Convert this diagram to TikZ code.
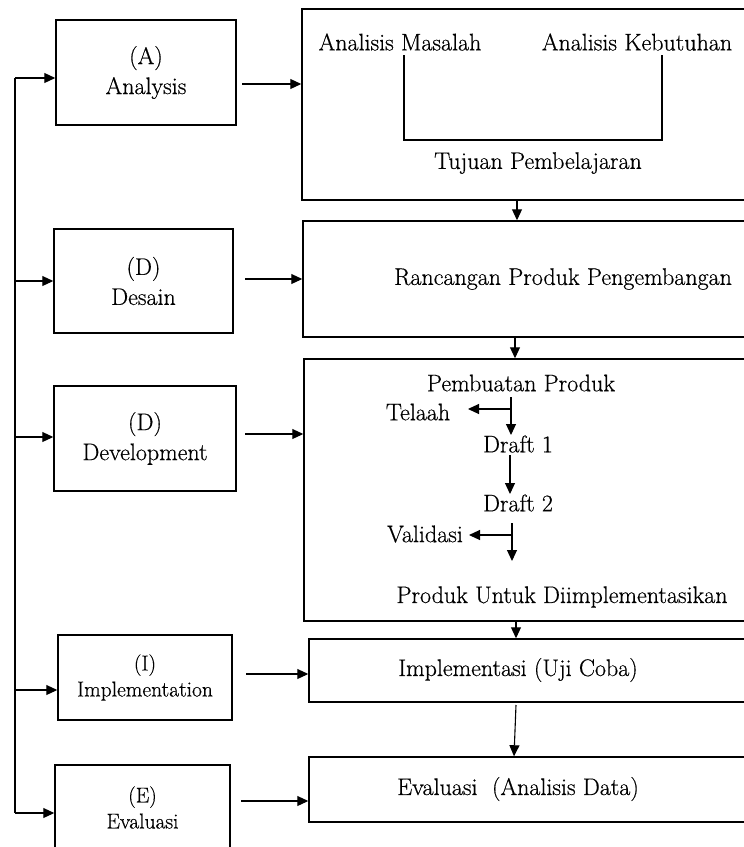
\documentclass[tikz,border=0pt]{standalone}
\usepackage{fontspec}
\setmainfont{Latin Modern Roman}[FakeBold=0.5]
\usetikzlibrary{arrows.meta}
\begin{document}
\begin{tikzpicture}[x=1pt,y=-1pt,
  box/.style={draw,line width=1.5pt,rectangle,inner sep=0pt,align=center},
  arr/.style={line width=1.1pt,-{Triangle[length=11pt,width=10pt]}},
  ln/.style={line width=1.1pt},
  txt/.style={inner sep=0pt,font=\fontsize{24}{30}\selectfont},
  smalltxt/.style={inner sep=0pt,font=\fontsize{21.5}{26}\selectfont}]
\useasboundingbox (0,0) rectangle (744,847);
\clip (0,0) rectangle (744,847);
% left boxes
\node[box,txt,minimum width=180pt,minimum height=105pt] (A) at (146,72.5) {(A)\\Analysis};
\node[box,txt,minimum width=179pt,minimum height=104pt] (D1) at (143.5,281) {(D)\\Desain};
\node[box,txt,minimum width=182pt,minimum height=105pt] (D2) at (145,438.5) {(D)\\Development};
\node[box,smalltxt,minimum width=174pt,minimum height=85pt] (I) at (145,677.5) {(I)\\Implementation};
\node[box,smalltxt,minimum width=175pt,minimum height=85pt] (E) at (142.5,807.5) {(E)\\Evaluasi};
% right boxes
\node[box,minimum width=458pt,minimum height=191pt] (B1) at (531,104.5) {};
\node[box,minimum width=457pt,minimum height=116pt] (B2) at (531.5,279) {};
\node[box,minimum width=456pt,minimum height=262pt] (B3) at (532,490) {};
\node[box,minimum width=451pt,minimum height=63pt] (B4) at (534.5,670.5) {};
\node[box,minimum width=451pt,minimum height=65pt] (B5) at (534.5,789.5) {};
% texts in right boxes
\node[txt] (am) at (400,42) {Analisis Masalah};
\node[txt] (ak) at (637,42) {Analisis Kebutuhan};
\node[txt] (tp) at (538,163) {Tujuan Pembelajaran};
\node[txt] (rp) at (563,279) {Rancangan Produk Pengembangan};
\node[txt] (pp) at (521,383) {Pembuatan Produk};
\node[txt] (tel) at (418,412) {Telaah};
\node[txt] (dr1) at (518,444) {Draft 1};
\node[txt] (dr2) at (518,503) {Draft 2};
\node[txt] (val) at (425,534) {Validasi};
\node[txt] (pud) at (562,597) {Produk Untuk Diimplementasikan};
\node[txt] (imp) at (518,670) {Implementasi (Uji Coba)};
\node[txt] (ev) at (518,789) {Evaluasi\ \ (Analisis Data)};
% bracket in box 1
\coordinate (bl) at (404,55);
\coordinate (br) at (662,55);
\draw[ln] (bl) -- (404,140) -- (662,140) -- (br);
% spine
\coordinate (s0) at (15,78);
\coordinate (s1) at (15,281);
\coordinate (s2) at (15,437);
\coordinate (s3) at (15,690);
\coordinate (s4) at (15,813);
\draw[ln] (s0) -- (s4);
\draw[arr] (s0) -- (s0 -| A.west);
\draw[arr] (s1) -- (s1 -| D1.west);
\draw[arr] (s2) -- (s2 -| D2.west);
\draw[arr] (s3) -- (s3 -| I.west);
\draw[arr] (s4) -- (s4 -| E.west);
% left-to-right arrows
\coordinate (r0) at (242,84);
\coordinate (r1) at (245,279);
\coordinate (r2) at (245,434);
\coordinate (r3) at (246,674);
\coordinate (r4) at (241,801);
\draw[arr] (r0) -- (r0 -| B1.west);
\draw[arr] (r1) -- (r1 -| B2.west);
\draw[arr] (r2) -- (r2 -| B3.west);
\draw[arr] (r3) -- (r3 -| B4.west);
\draw[arr] (r4) -- (r4 -| B5.west);
% arrows between right boxes
\coordinate (v1) at (517,0);
\coordinate (v2) at (515,0);
\coordinate (v3) at (516,0);
\draw[arr] (B1.south -| v1) -- (B2.north -| v1);
\draw[arr] (B2.south -| v2) -- (B3.north -| v2);
\draw[arr] (B3.south -| v3) -- (B4.north -| v3);
\coordinate (w1) at (516,705);
\coordinate (w2) at (514,0);
\draw[arr] (w1) -- (B5.north -| w2);
% inner flow in box 3
\coordinate (p1) at (511,397);
\coordinate (p2) at (511,409);
\coordinate (pt) at (468,409);
\draw[ln] (p1) -- (p2);
\draw[arr] (p2) -- (511,435);
\draw[arr] (p2) -- (pt);
\coordinate (q1) at (510,455);
\draw[arr] (q1) -- (510,494);
\coordinate (u1) at (512,523);
\coordinate (u2) at (512,535);
\coordinate (ut) at (469,535);
\draw[ln] (u1) -- (u2);
\draw[arr] (u2) -- (512,561);
\draw[arr] (u2) -- (ut);
\end{tikzpicture}
\end{document}
